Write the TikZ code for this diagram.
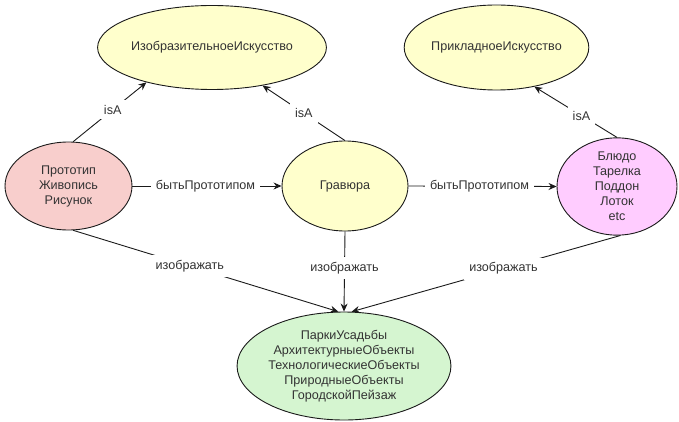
\documentclass[tikz,border=0pt]{standalone}
\usepackage{fontspec}
\setmainfont{Liberation Sans}
\usetikzlibrary{shapes.geometric,arrows.meta}
\definecolor{conceptyellow}{HTML}{FFFFCC}
\definecolor{conceptpink}{HTML}{F8CECC}
\definecolor{conceptviolet}{HTML}{FFCCFF}
\definecolor{conceptgreen}{HTML}{D5F5D0}
\definecolor{inktext}{HTML}{333333}
\definecolor{inkline}{HTML}{1A1A1A}
\begin{document}
\begin{tikzpicture}[x=1pt,y=-1pt,
  concept/.style={ellipse,draw=inkline,line width=0.9pt,inner sep=0pt,
    align=center,text=inktext,font=\fontsize{12.6}{15}\selectfont},
  lbl/.style={fill=white,inner xsep=5pt,inner ysep=5pt,text=inktext,
    font=\fontsize{12.6}{15}\selectfont},
  arr/.style={draw=inkline,line width=0.9pt,-{Stealth[length=8pt,width=7pt]}}]
  \useasboundingbox (0,0) rectangle (679,422);

  % concepts
  \node[concept,fill=conceptyellow,minimum width=180pt,minimum height=84pt]
    (fine) at (212,47.5) {ИзобразительноеИскусство};
  \node[concept,fill=conceptyellow,minimum width=176pt,minimum height=85pt]
    (applied) at (496.5,47.5) {ПрикладноеИскусство};
  \node[concept,fill=conceptpink,minimum width=127pt,minimum height=88pt]
    (proto) at (68.5,186) {Прототип\\Живопись\\Рисунок};
  \node[concept,fill=conceptyellow,minimum width=126pt,minimum height=90pt]
    (engr) at (345,186) {Гравюра};
  \node[concept,fill=conceptviolet,minimum width=120pt,minimum height=88pt]
    (dish) at (617,186.5) {Блюдо\\Тарелка\\Поддон\\Лоток\\etc};
  \node[concept,fill=conceptgreen,minimum width=168pt,minimum height=108pt]
    (scene) at (344,366) {ПаркиУсадьбы\\АрхитектурныеОбъекты\\ТехнологическиеОбъекты\\ПриродныеОбъекты\\ГородскойПейзаж};

  % isA relations
  \draw[arr] (proto.84) -- node[lbl,pos=0.54]{isA} (fine.208);
  \draw[arr] (engr.90) -- node[lbl,pos=0.5]{isA} (fine.323);
  \draw[arr] (dish.90) -- node[lbl,pos=0.43]{isA} (applied.314);

  % prototype relations
  \draw[arr] (proto.east) -- node[lbl,pos=0.49]{бытьПрототипом} (engr.west);
  \draw[arr] (engr.east) -- node[lbl,pos=0.48]{бытьПрототипом} (dish.west);

  % depiction relations
  \draw[arr] (proto.276) -- node[lbl,pos=0.44]{изображать} (scene.96.5);
  \draw[arr] (engr.south) -- node[lbl,pos=0.46]{изображать} (scene.north);
  \draw[arr] (dish.274) -- node[lbl,pos=0.435]{изображать} (scene.82.5);
\end{tikzpicture}
\end{document}
